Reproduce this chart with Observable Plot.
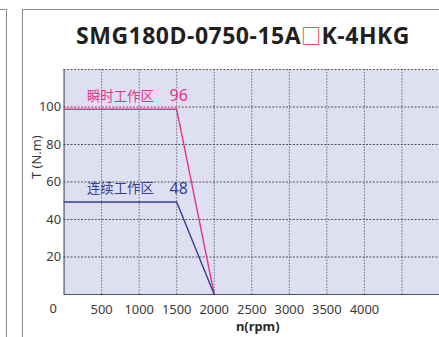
<!DOCTYPE html>
<html>
<head>
<meta charset="utf-8">
<script src="https://cdn.jsdelivr.net/npm/d3@7"></script>
<script src="https://cdn.jsdelivr.net/npm/@observablehq/plot@0.6"></script>
<style>
html,body{margin:0;padding:0;background:#fff;overflow:hidden;}
#wrap{position:relative;width:439px;height:337px;overflow:hidden;font-family:"Noto Sans","Noto Sans CJK SC",sans-serif;}
.fr{position:absolute;border-color:#8a8a8a;border-style:solid;border-width:0;}
#title{position:absolute;left:22px;top:19px;width:442px;text-align:center;font-weight:bold;font-size:23px;color:#231f20;letter-spacing:0.5px;font-family:"Open Sans","Noto Sans",sans-serif;white-space:nowrap;}
#title .sq{color:#e8303a;font-weight:normal;font-size:20px;font-family:"Noto Sans CJK SC",sans-serif;}
#chart{position:absolute;left:0;top:0;}
</style>
</head>
<body>
<div id="wrap">
  <div class="fr" style="left:-2px;top:9px;width:8px;height:340px;border-top-width:1.5px;border-right-width:1.5px;"></div>
  <div class="fr" style="left:22px;top:9px;width:460px;height:340px;border-top-width:1.5px;border-left-width:1.5px;"></div>
  <div id="title">SMG180D-0750-15A<span class="sq">□</span>K-4HKG</div>
  <div id="chart"></div>
</div>
<script>
// Data
const speedPeak = [0, 1500, 2000];
const torquePeak = [98.8, 98.8, 0];
const speedCont = [0, 1500, 2000];
const torqueCont = [49.3, 49.3, 0];
const peakLabel = "瞬时工作区";
const peakValue = "96";
const contLabel = "连续工作区";
const contValue = "48";
const xTicks = [500, 1000, 1500, 2000, 2500, 3000, 3500, 4000];
const xGrid = [500, 1000, 1500, 2000, 2500, 3000, 3500, 4000, 4500, 5000];
const yTicks = [20, 40, 60, 80, 100];
const yGrid = [20, 40, 60, 80, 100, 120];

const pink = "#e5318c";
const blue = "#363c94";

const peak = speedPeak.map((s, i) => ({s, t: torquePeak[i]}));
const cont = speedCont.map((s, i) => ({s, t: torqueCont[i]}));

const chart = Plot.plot({
  width: 442,
  height: 337,
  marginLeft: 64,
  marginRight: 0,
  marginTop: 69.5,
  marginBottom: 41,
  style: {fontFamily: '"Noto Sans","Noto Sans CJK SC",sans-serif', fontSize: "13px", color: "#3a3a3a", background: "transparent"},
  x: {domain: [0, 5000], ticks: xTicks, tickFormat: d => String(d), tickSize: 0, tickPadding: 10, label: null},
  y: {domain: [0, 120], ticks: yTicks, tickFormat: d => String(d), tickSize: 0, tickPadding: 3, label: null},
  marks: [
    Plot.frame({fill: "#dee0f2", stroke: null}),
    Plot.gridX(xGrid, {stroke: "#555", strokeOpacity: 0.85, strokeDasharray: "1.5,1.5", strokeWidth: 1}),
    Plot.gridY(yGrid, {stroke: "#444", strokeOpacity: 0.9, strokeDasharray: "2,1.5", strokeWidth: 1}),
    Plot.ruleX([0], {stroke: "#555", strokeWidth: 1.2}),
    Plot.ruleY([0], {stroke: "#555", strokeWidth: 1.2}),
    Plot.line(peak, {x: "s", y: "t", stroke: pink, strokeWidth: 1.4}),
    Plot.line(cont, {x: "s", y: "t", stroke: blue, strokeWidth: 1.4}),
    Plot.text([peak[0]], {x: "s", y: "t", text: () => peakLabel, textAnchor: "start", dx: 23, dy: -13, fill: pink, fontSize: 13.5, fontFamily: '"Noto Sans CJK SC",sans-serif'}),
    Plot.text([peak[1]], {x: "s", y: "t", text: () => peakValue, textAnchor: "middle", dx: 2, dy: -13, fill: pink, fontSize: 16}),
    Plot.text([cont[0]], {x: "s", y: "t", text: () => contLabel, textAnchor: "start", dx: 23, dy: -13, fill: blue, fontSize: 13.5, fontFamily: '"Noto Sans CJK SC",sans-serif'}),
    Plot.text([cont[1]], {x: "s", y: "t", text: () => contValue, textAnchor: "middle", dx: 2, dy: -13, fill: blue, fontSize: 16}),
    Plot.text([0], {x: d => d, y: () => 0, text: d => String(d), dx: -11, dy: 14, fill: "#3a3a3a", fontSize: 13}),
    Plot.text(["n(rpm)"], {frameAnchor: "bottom", dx: 6, dy: 37, fontWeight: "bold", fontSize: 13, fill: "#2a2a2a"}),
    Plot.text(["T (N.m)"], {frameAnchor: "left", dx: -27, dy: -3, rotate: -90, fontSize: 13, fill: "#3a3a3a"})
  ]
});
document.getElementById("chart").appendChild(chart);
</script>
</body>
</html>
